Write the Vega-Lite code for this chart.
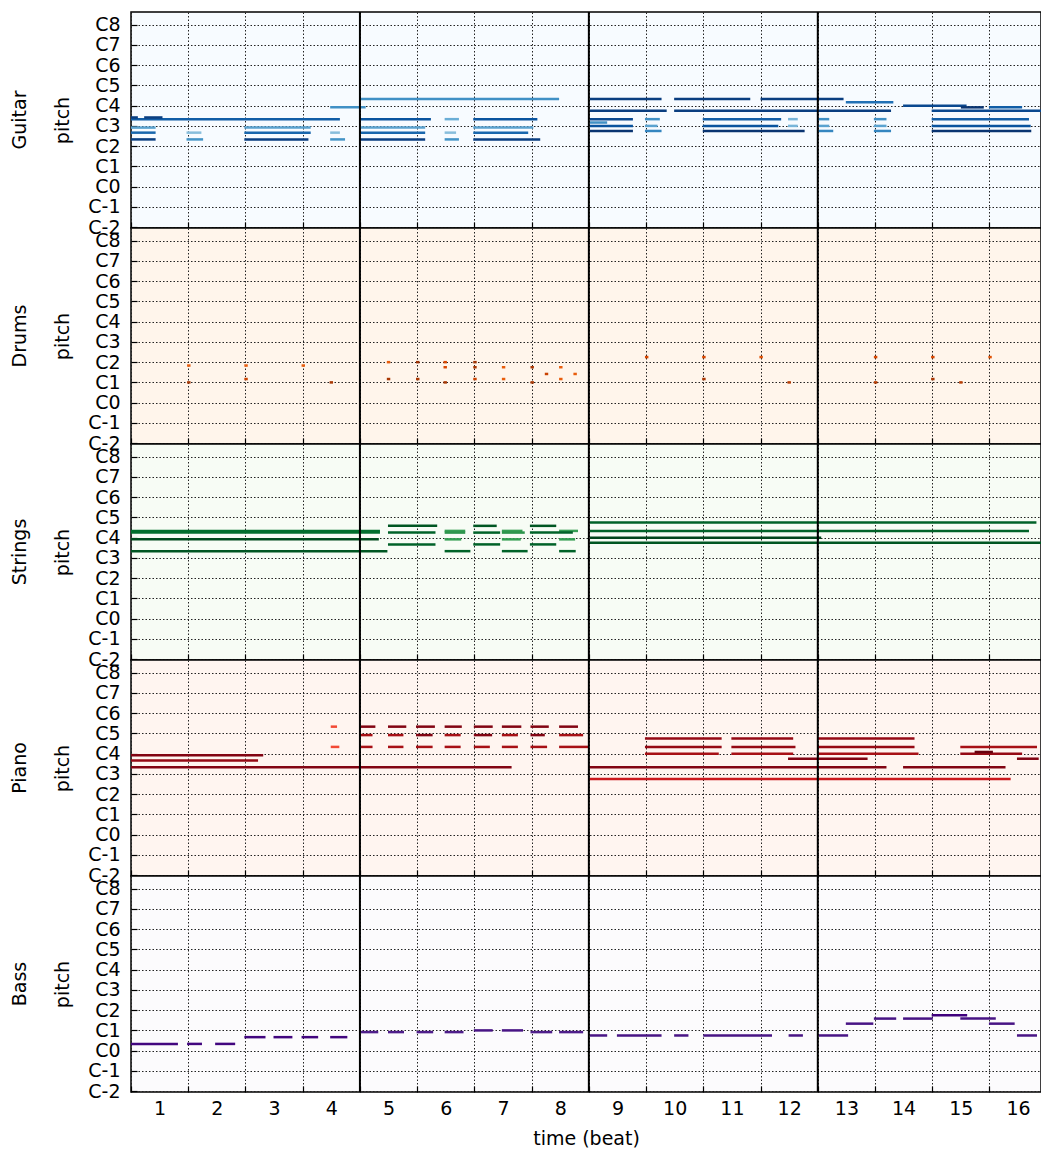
{
  "$schema": "https://vega.github.io/schema/vega-lite/v6.json",
  "padding": {"left": 10, "top": 10, "right": 0, "bottom": 5},
  "bounds": "flush",
  "spacing": 0,
  "config": {
    "font": "DejaVu Sans",
    "view": {"stroke": "black", "strokeWidth": 1.5},
    "axis": {"labelFont": "DejaVu Sans", "labelFontSize": 19, "labelColor": "black", "titleFont": "DejaVu Sans", "titleFontSize": 19, "titleFontWeight": "normal", "titleColor": "black", "grid": true, "gridColor": "#222", "gridDash": [1.5, 2], "gridWidth": 1, "domain": false, "tickColor": "black", "tickWidth": 1.2, "tickSize": -6, "labelFlush": false, "labelOverlap": false, "labelBound": false},
    "title": {"font": "DejaVu Sans", "fontSize": 19, "fontWeight": "normal", "color": "black"}
  },
  "datasets": {
    "downbeats": [{"beat": 4}, {"beat": 8}, {"beat": 12}],
    "notes": [
      {"track": "Guitar", "pitch": 76, "start": 4.0, "end": 7.48, "velocity": 80},
      {"track": "Guitar", "pitch": 71, "start": 3.48, "end": 4.1, "velocity": 80},
      {"track": "Guitar", "pitch": 64, "start": 0, "end": 3.65, "velocity": 105},
      {"track": "Guitar", "pitch": 65, "start": 0, "end": 0.12, "velocity": 120},
      {"track": "Guitar", "pitch": 65, "start": 0.23, "end": 0.55, "velocity": 120},
      {"track": "Guitar", "pitch": 64, "start": 4.01, "end": 5.24, "velocity": 110},
      {"track": "Guitar", "pitch": 64, "start": 5.48, "end": 5.73, "velocity": 64},
      {"track": "Guitar", "pitch": 64, "start": 5.98, "end": 7.1, "velocity": 110},
      {"track": "Guitar", "pitch": 59, "start": 0, "end": 0.43, "velocity": 70},
      {"track": "Guitar", "pitch": 59, "start": 1.98, "end": 3.14, "velocity": 70},
      {"track": "Guitar", "pitch": 59, "start": 4.01, "end": 5.14, "velocity": 70},
      {"track": "Guitar", "pitch": 59, "start": 5.98, "end": 7.03, "velocity": 70},
      {"track": "Guitar", "pitch": 56, "start": 0, "end": 0.43, "velocity": 100},
      {"track": "Guitar", "pitch": 56, "start": 0.97, "end": 1.23, "velocity": 55},
      {"track": "Guitar", "pitch": 56, "start": 1.98, "end": 3.14, "velocity": 100},
      {"track": "Guitar", "pitch": 56, "start": 3.48, "end": 3.65, "velocity": 55},
      {"track": "Guitar", "pitch": 56, "start": 4.01, "end": 5.14, "velocity": 100},
      {"track": "Guitar", "pitch": 56, "start": 5.48, "end": 5.68, "velocity": 55},
      {"track": "Guitar", "pitch": 56, "start": 5.98, "end": 6.94, "velocity": 100},
      {"track": "Guitar", "pitch": 52, "start": 0, "end": 0.43, "velocity": 120},
      {"track": "Guitar", "pitch": 52, "start": 0.97, "end": 1.26, "velocity": 78},
      {"track": "Guitar", "pitch": 52, "start": 1.98, "end": 3.1, "velocity": 120},
      {"track": "Guitar", "pitch": 52, "start": 3.48, "end": 3.74, "velocity": 78},
      {"track": "Guitar", "pitch": 52, "start": 4.01, "end": 5.14, "velocity": 120},
      {"track": "Guitar", "pitch": 52, "start": 5.48, "end": 5.73, "velocity": 78},
      {"track": "Guitar", "pitch": 52, "start": 5.98, "end": 7.15, "velocity": 120},
      {"track": "Guitar", "pitch": 76, "start": 8.02, "end": 9.27, "velocity": 120},
      {"track": "Guitar", "pitch": 76, "start": 9.49, "end": 10.82, "velocity": 120},
      {"track": "Guitar", "pitch": 76, "start": 11.0, "end": 12.45, "velocity": 120},
      {"track": "Guitar", "pitch": 74, "start": 12.49, "end": 13.32, "velocity": 95},
      {"track": "Guitar", "pitch": 72, "start": 13.49, "end": 14.6, "velocity": 115},
      {"track": "Guitar", "pitch": 71, "start": 14.5, "end": 14.9, "velocity": 125},
      {"track": "Guitar", "pitch": 71, "start": 14.99, "end": 15.57, "velocity": 105},
      {"track": "Guitar", "pitch": 69, "start": 8.02, "end": 9.36, "velocity": 120},
      {"track": "Guitar", "pitch": 69, "start": 9.49, "end": 13.28, "velocity": 120},
      {"track": "Guitar", "pitch": 69, "start": 13.99, "end": 15.9, "velocity": 115},
      {"track": "Guitar", "pitch": 64, "start": 8.02, "end": 8.77, "velocity": 115},
      {"track": "Guitar", "pitch": 64, "start": 8.98, "end": 9.24, "velocity": 80},
      {"track": "Guitar", "pitch": 64, "start": 9.99, "end": 11.36, "velocity": 105},
      {"track": "Guitar", "pitch": 64, "start": 11.48, "end": 11.65, "velocity": 60},
      {"track": "Guitar", "pitch": 64, "start": 12.0, "end": 12.2, "velocity": 80},
      {"track": "Guitar", "pitch": 64, "start": 12.98, "end": 13.2, "velocity": 80},
      {"track": "Guitar", "pitch": 64, "start": 13.99, "end": 15.69, "velocity": 105},
      {"track": "Guitar", "pitch": 62, "start": 8.02, "end": 8.32, "velocity": 80},
      {"track": "Guitar", "pitch": 60, "start": 8.02, "end": 8.77, "velocity": 110},
      {"track": "Guitar", "pitch": 60, "start": 8.98, "end": 9.2, "velocity": 70},
      {"track": "Guitar", "pitch": 60, "start": 9.99, "end": 11.31, "velocity": 110},
      {"track": "Guitar", "pitch": 60, "start": 11.48, "end": 11.65, "velocity": 60},
      {"track": "Guitar", "pitch": 60, "start": 12.0, "end": 12.2, "velocity": 70},
      {"track": "Guitar", "pitch": 60, "start": 12.98, "end": 13.2, "velocity": 70},
      {"track": "Guitar", "pitch": 60, "start": 13.99, "end": 15.72, "velocity": 110},
      {"track": "Guitar", "pitch": 57, "start": 8.02, "end": 8.77, "velocity": 125},
      {"track": "Guitar", "pitch": 57, "start": 8.98, "end": 9.27, "velocity": 85},
      {"track": "Guitar", "pitch": 57, "start": 9.99, "end": 11.77, "velocity": 125},
      {"track": "Guitar", "pitch": 57, "start": 12.0, "end": 12.27, "velocity": 85},
      {"track": "Guitar", "pitch": 57, "start": 12.98, "end": 13.28, "velocity": 85},
      {"track": "Guitar", "pitch": 57, "start": 13.99, "end": 15.73, "velocity": 125},

      {"track": "Drums", "pitch": 46, "start": 0.98, "end": 1.04, "velocity": 85},
      {"track": "Drums", "pitch": 46, "start": 1.98, "end": 2.04, "velocity": 85},
      {"track": "Drums", "pitch": 46, "start": 2.98, "end": 3.04, "velocity": 85},
      {"track": "Drums", "pitch": 36, "start": 0.98, "end": 1.04, "velocity": 110},
      {"track": "Drums", "pitch": 38, "start": 1.98, "end": 2.04, "velocity": 100},
      {"track": "Drums", "pitch": 36, "start": 3.47, "end": 3.53, "velocity": 110},
      {"track": "Drums", "pitch": 48, "start": 4.47, "end": 4.53, "velocity": 85},
      {"track": "Drums", "pitch": 48, "start": 4.98, "end": 5.04, "velocity": 115},
      {"track": "Drums", "pitch": 48, "start": 5.46, "end": 5.52, "velocity": 95},
      {"track": "Drums", "pitch": 48, "start": 5.98, "end": 6.04, "velocity": 115},
      {"track": "Drums", "pitch": 45, "start": 5.46, "end": 5.52, "velocity": 95},
      {"track": "Drums", "pitch": 45, "start": 5.98, "end": 6.04, "velocity": 110},
      {"track": "Drums", "pitch": 45, "start": 6.48, "end": 6.54, "velocity": 85},
      {"track": "Drums", "pitch": 45, "start": 6.98, "end": 7.04, "velocity": 110},
      {"track": "Drums", "pitch": 45, "start": 7.48, "end": 7.54, "velocity": 85},
      {"track": "Drums", "pitch": 41, "start": 7.23, "end": 7.29, "velocity": 100},
      {"track": "Drums", "pitch": 41, "start": 7.73, "end": 7.79, "velocity": 85},
      {"track": "Drums", "pitch": 38, "start": 4.47, "end": 4.53, "velocity": 110},
      {"track": "Drums", "pitch": 38, "start": 4.98, "end": 5.04, "velocity": 110},
      {"track": "Drums", "pitch": 38, "start": 5.98, "end": 6.04, "velocity": 100},
      {"track": "Drums", "pitch": 38, "start": 6.48, "end": 6.54, "velocity": 85},
      {"track": "Drums", "pitch": 38, "start": 7.48, "end": 7.54, "velocity": 85},
      {"track": "Drums", "pitch": 36, "start": 5.46, "end": 5.52, "velocity": 110},
      {"track": "Drums", "pitch": 36, "start": 6.98, "end": 7.04, "velocity": 110},
      {"track": "Drums", "pitch": 51, "start": 8.98, "end": 9.04, "velocity": 95},
      {"track": "Drums", "pitch": 51, "start": 9.98, "end": 10.04, "velocity": 95},
      {"track": "Drums", "pitch": 51, "start": 10.98, "end": 11.04, "velocity": 90},
      {"track": "Drums", "pitch": 51, "start": 12.98, "end": 13.04, "velocity": 95},
      {"track": "Drums", "pitch": 51, "start": 13.98, "end": 14.04, "velocity": 95},
      {"track": "Drums", "pitch": 51, "start": 14.98, "end": 15.04, "velocity": 90},
      {"track": "Drums", "pitch": 38, "start": 9.98, "end": 10.04, "velocity": 110},
      {"track": "Drums", "pitch": 38, "start": 13.98, "end": 14.04, "velocity": 110},
      {"track": "Drums", "pitch": 36, "start": 11.47, "end": 11.53, "velocity": 105},
      {"track": "Drums", "pitch": 36, "start": 12.98, "end": 13.04, "velocity": 105},
      {"track": "Drums", "pitch": 36, "start": 14.47, "end": 14.53, "velocity": 105},

      {"track": "Strings", "pitch": 76, "start": 0, "end": 4.35, "velocity": 110},
      {"track": "Strings", "pitch": 75, "start": 0, "end": 4.35, "velocity": 110},
      {"track": "Strings", "pitch": 71, "start": 0, "end": 4.33, "velocity": 125},
      {"track": "Strings", "pitch": 64, "start": 0, "end": 4.48, "velocity": 120},
      {"track": "Strings", "pitch": 79, "start": 4.49, "end": 5.35, "velocity": 120},
      {"track": "Strings", "pitch": 79, "start": 5.98, "end": 6.39, "velocity": 120},
      {"track": "Strings", "pitch": 79, "start": 6.97, "end": 7.43, "velocity": 120},
      {"track": "Strings", "pitch": 76, "start": 5.48, "end": 5.84, "velocity": 85},
      {"track": "Strings", "pitch": 76, "start": 6.48, "end": 6.84, "velocity": 85},
      {"track": "Strings", "pitch": 76, "start": 7.48, "end": 7.81, "velocity": 85},
      {"track": "Strings", "pitch": 75, "start": 4.49, "end": 5.32, "velocity": 115},
      {"track": "Strings", "pitch": 75, "start": 5.48, "end": 5.84, "velocity": 90},
      {"track": "Strings", "pitch": 75, "start": 5.98, "end": 6.45, "velocity": 115},
      {"track": "Strings", "pitch": 75, "start": 6.48, "end": 6.88, "velocity": 90},
      {"track": "Strings", "pitch": 75, "start": 6.97, "end": 7.72, "velocity": 115},
      {"track": "Strings", "pitch": 71, "start": 5.48, "end": 5.77, "velocity": 85},
      {"track": "Strings", "pitch": 71, "start": 6.48, "end": 6.81, "velocity": 85},
      {"track": "Strings", "pitch": 71, "start": 7.48, "end": 7.76, "velocity": 85},
      {"track": "Strings", "pitch": 68, "start": 4.49, "end": 5.32, "velocity": 115},
      {"track": "Strings", "pitch": 68, "start": 5.98, "end": 6.45, "velocity": 115},
      {"track": "Strings", "pitch": 68, "start": 6.97, "end": 7.43, "velocity": 115},
      {"track": "Strings", "pitch": 64, "start": 5.48, "end": 5.93, "velocity": 115},
      {"track": "Strings", "pitch": 64, "start": 6.48, "end": 6.93, "velocity": 115},
      {"track": "Strings", "pitch": 64, "start": 7.48, "end": 7.77, "velocity": 115},
      {"track": "Strings", "pitch": 81, "start": 8.02, "end": 15.82, "velocity": 115},
      {"track": "Strings", "pitch": 76, "start": 8.02, "end": 15.69, "velocity": 115},
      {"track": "Strings", "pitch": 72, "start": 8.02, "end": 12.06, "velocity": 127},
      {"track": "Strings", "pitch": 69, "start": 8.02, "end": 15.9, "velocity": 120},

      {"track": "Piano", "pitch": 88, "start": 3.49, "end": 3.6, "velocity": 75},
      {"track": "Piano", "pitch": 88, "start": 4.01, "end": 4.27, "velocity": 120},
      {"track": "Piano", "pitch": 88, "start": 4.49, "end": 4.81, "velocity": 120},
      {"track": "Piano", "pitch": 88, "start": 4.98, "end": 5.31, "velocity": 120},
      {"track": "Piano", "pitch": 88, "start": 5.48, "end": 5.78, "velocity": 120},
      {"track": "Piano", "pitch": 88, "start": 5.99, "end": 6.32, "velocity": 120},
      {"track": "Piano", "pitch": 88, "start": 6.48, "end": 6.82, "velocity": 120},
      {"track": "Piano", "pitch": 88, "start": 6.98, "end": 7.3, "velocity": 120},
      {"track": "Piano", "pitch": 88, "start": 7.48, "end": 7.81, "velocity": 120},
      {"track": "Piano", "pitch": 83, "start": 4.01, "end": 4.22, "velocity": 110},
      {"track": "Piano", "pitch": 83, "start": 4.49, "end": 4.76, "velocity": 110},
      {"track": "Piano", "pitch": 83, "start": 4.98, "end": 5.27, "velocity": 120},
      {"track": "Piano", "pitch": 83, "start": 5.48, "end": 5.76, "velocity": 110},
      {"track": "Piano", "pitch": 83, "start": 5.99, "end": 6.31, "velocity": 120},
      {"track": "Piano", "pitch": 83, "start": 6.48, "end": 6.76, "velocity": 110},
      {"track": "Piano", "pitch": 83, "start": 6.98, "end": 7.23, "velocity": 120},
      {"track": "Piano", "pitch": 83, "start": 7.48, "end": 7.9, "velocity": 110},
      {"track": "Piano", "pitch": 76, "start": 3.49, "end": 3.64, "velocity": 75},
      {"track": "Piano", "pitch": 76, "start": 4.01, "end": 4.22, "velocity": 110},
      {"track": "Piano", "pitch": 76, "start": 4.49, "end": 4.76, "velocity": 110},
      {"track": "Piano", "pitch": 76, "start": 4.98, "end": 5.27, "velocity": 110},
      {"track": "Piano", "pitch": 76, "start": 5.48, "end": 5.76, "velocity": 110},
      {"track": "Piano", "pitch": 76, "start": 5.99, "end": 6.27, "velocity": 110},
      {"track": "Piano", "pitch": 76, "start": 6.48, "end": 6.76, "velocity": 110},
      {"track": "Piano", "pitch": 76, "start": 6.98, "end": 7.27, "velocity": 110},
      {"track": "Piano", "pitch": 76, "start": 7.48, "end": 8.0, "velocity": 110},
      {"track": "Piano", "pitch": 71, "start": 0, "end": 2.31, "velocity": 120},
      {"track": "Piano", "pitch": 68, "start": 0, "end": 2.22, "velocity": 115},
      {"track": "Piano", "pitch": 64, "start": 0, "end": 6.65, "velocity": 120},
      {"track": "Piano", "pitch": 81, "start": 8.98, "end": 10.32, "velocity": 115},
      {"track": "Piano", "pitch": 81, "start": 10.49, "end": 11.57, "velocity": 115},
      {"track": "Piano", "pitch": 81, "start": 12.0, "end": 13.69, "velocity": 115},
      {"track": "Piano", "pitch": 76, "start": 8.98, "end": 10.32, "velocity": 115},
      {"track": "Piano", "pitch": 76, "start": 10.49, "end": 11.61, "velocity": 115},
      {"track": "Piano", "pitch": 76, "start": 12.0, "end": 13.69, "velocity": 115},
      {"track": "Piano", "pitch": 76, "start": 14.49, "end": 15.83, "velocity": 110},
      {"track": "Piano", "pitch": 72, "start": 8.98, "end": 10.27, "velocity": 110},
      {"track": "Piano", "pitch": 72, "start": 10.49, "end": 11.57, "velocity": 110},
      {"track": "Piano", "pitch": 72, "start": 12.0, "end": 13.76, "velocity": 110},
      {"track": "Piano", "pitch": 72, "start": 14.49, "end": 15.57, "velocity": 115},
      {"track": "Piano", "pitch": 73, "start": 14.74, "end": 15.06, "velocity": 127},
      {"track": "Piano", "pitch": 69, "start": 11.48, "end": 12.87, "velocity": 120},
      {"track": "Piano", "pitch": 69, "start": 15.48, "end": 15.86, "velocity": 120},
      {"track": "Piano", "pitch": 64, "start": 7.99, "end": 13.2, "velocity": 120},
      {"track": "Piano", "pitch": 64, "start": 13.49, "end": 15.28, "velocity": 120},
      {"track": "Piano", "pitch": 57, "start": 7.99, "end": 15.37, "velocity": 95},

      {"track": "Bass", "pitch": 28, "start": 0, "end": 0.82, "velocity": 125},
      {"track": "Bass", "pitch": 28, "start": 0.98, "end": 1.24, "velocity": 125},
      {"track": "Bass", "pitch": 28, "start": 1.47, "end": 1.82, "velocity": 125},
      {"track": "Bass", "pitch": 32, "start": 1.98, "end": 2.35, "velocity": 125},
      {"track": "Bass", "pitch": 32, "start": 2.49, "end": 2.82, "velocity": 125},
      {"track": "Bass", "pitch": 32, "start": 2.98, "end": 3.27, "velocity": 125},
      {"track": "Bass", "pitch": 32, "start": 3.48, "end": 3.78, "velocity": 125},
      {"track": "Bass", "pitch": 35, "start": 4.01, "end": 4.32, "velocity": 115},
      {"track": "Bass", "pitch": 35, "start": 4.49, "end": 4.77, "velocity": 115},
      {"track": "Bass", "pitch": 35, "start": 4.99, "end": 5.28, "velocity": 115},
      {"track": "Bass", "pitch": 35, "start": 5.48, "end": 5.81, "velocity": 115},
      {"track": "Bass", "pitch": 36, "start": 5.99, "end": 6.32, "velocity": 120},
      {"track": "Bass", "pitch": 36, "start": 6.48, "end": 6.85, "velocity": 120},
      {"track": "Bass", "pitch": 35, "start": 6.98, "end": 7.36, "velocity": 115},
      {"track": "Bass", "pitch": 35, "start": 7.48, "end": 7.9, "velocity": 115},
      {"track": "Bass", "pitch": 33, "start": 8.02, "end": 8.32, "velocity": 120},
      {"track": "Bass", "pitch": 33, "start": 8.49, "end": 9.27, "velocity": 120},
      {"track": "Bass", "pitch": 33, "start": 9.49, "end": 9.74, "velocity": 120},
      {"track": "Bass", "pitch": 33, "start": 10.0, "end": 11.2, "velocity": 120},
      {"track": "Bass", "pitch": 33, "start": 11.49, "end": 11.74, "velocity": 120},
      {"track": "Bass", "pitch": 33, "start": 12.02, "end": 12.53, "velocity": 120},
      {"track": "Bass", "pitch": 33, "start": 15.48, "end": 15.83, "velocity": 120},
      {"track": "Bass", "pitch": 40, "start": 12.49, "end": 12.97, "velocity": 120},
      {"track": "Bass", "pitch": 40, "start": 14.99, "end": 15.44, "velocity": 120},
      {"track": "Bass", "pitch": 43, "start": 12.98, "end": 13.37, "velocity": 120},
      {"track": "Bass", "pitch": 43, "start": 13.49, "end": 14.01, "velocity": 120},
      {"track": "Bass", "pitch": 43, "start": 14.49, "end": 15.11, "velocity": 120},
      {"track": "Bass", "pitch": 45, "start": 13.99, "end": 14.61, "velocity": 127}
    ]
  },
  "resolve": {"scale": {"color": "independent", "x": "independent", "y": "independent"}},
  "vconcat": [
    {
      "width": 910, "height": 216,
      "view": {"fill": "#f7fbff", "stroke": "black", "strokeWidth": 1.5},
      "title": {"text": "Guitar", "orient": "left", "offset": 24},
      "layer": [
        {
          "data": {"name": "notes"},
          "transform": [{"filter": "datum.track == 'Guitar'"}],
          "mark": {"type": "rule", "strokeWidth": 2.5, "strokeCap": "butt"},
          "encoding": {
            "x": {"field": "start", "type": "quantitative", "scale": {"domain": [0, 15.9], "nice": false, "zero": false}, "axis": {"values": [0,1,2,3,4,5,6,7,8,9,10,11,12,13,14,15], "labels": false, "title": null}},
            "x2": {"field": "end"},
            "y": {"field": "pitch", "type": "quantitative", "scale": {"domain": [-0.5, 127.5], "nice": false, "zero": false}, "axis": {"values": [0,12,24,36,48,60,72,84,96,108,120], "labelExpr": "'C' + (datum.value/12 - 2)", "title": "pitch", "labelPadding": 17, "titlePadding": 15}},
            "color": {"field": "velocity", "type": "quantitative", "legend": null, "scale": {"domain": [0,16,32,48,64,79,95,111,127], "range": ["#f7fbff","#deebf7","#c6dbef","#9ecae1","#6baed6","#4292c6","#2171b5","#08519c","#08306b"]}}
          }
        },
        {
          "data": {"name": "downbeats"},
          "mark": {"type": "rule", "color": "black", "strokeWidth": 2},
          "encoding": {"x": {"field": "beat", "type": "quantitative"}}
        }
      ]
    },
    {
      "width": 910, "height": 216,
      "view": {"fill": "#fff5eb", "stroke": "black", "strokeWidth": 1.5},
      "title": {"text": "Drums", "orient": "left", "offset": 24},
      "layer": [
        {
          "data": {"name": "notes"},
          "transform": [{"filter": "datum.track == 'Drums'"}],
          "mark": {"type": "rule", "strokeWidth": 2.5, "strokeCap": "butt"},
          "encoding": {
            "x": {"field": "start", "type": "quantitative", "scale": {"domain": [0, 15.9], "nice": false, "zero": false}, "axis": {"values": [0,1,2,3,4,5,6,7,8,9,10,11,12,13,14,15], "labels": false, "title": null}},
            "x2": {"field": "end"},
            "y": {"field": "pitch", "type": "quantitative", "scale": {"domain": [-0.5, 127.5], "nice": false, "zero": false}, "axis": {"values": [0,12,24,36,48,60,72,84,96,108,120], "labelExpr": "'C' + (datum.value/12 - 2)", "title": "pitch", "labelPadding": 17, "titlePadding": 15}},
            "color": {"field": "velocity", "type": "quantitative", "legend": null, "scale": {"domain": [0,16,32,48,64,79,95,111,127], "range": ["#fff5eb","#fee6ce","#fdd0a2","#fdae6b","#fd8d3c","#f16913","#d94801","#a63603","#7f2704"]}}
          }
        },
        {
          "data": {"name": "downbeats"},
          "mark": {"type": "rule", "color": "black", "strokeWidth": 2},
          "encoding": {"x": {"field": "beat", "type": "quantitative"}}
        }
      ]
    },
    {
      "width": 910, "height": 216,
      "view": {"fill": "#f7fcf5", "stroke": "black", "strokeWidth": 1.5},
      "title": {"text": "Strings", "orient": "left", "offset": 24},
      "layer": [
        {
          "data": {"name": "notes"},
          "transform": [{"filter": "datum.track == 'Strings'"}],
          "mark": {"type": "rule", "strokeWidth": 2.5, "strokeCap": "butt"},
          "encoding": {
            "x": {"field": "start", "type": "quantitative", "scale": {"domain": [0, 15.9], "nice": false, "zero": false}, "axis": {"values": [0,1,2,3,4,5,6,7,8,9,10,11,12,13,14,15], "labels": false, "title": null}},
            "x2": {"field": "end"},
            "y": {"field": "pitch", "type": "quantitative", "scale": {"domain": [-0.5, 127.5], "nice": false, "zero": false}, "axis": {"values": [0,12,24,36,48,60,72,84,96,108,120], "labelExpr": "'C' + (datum.value/12 - 2)", "title": "pitch", "labelPadding": 17, "titlePadding": 15}},
            "color": {"field": "velocity", "type": "quantitative", "legend": null, "scale": {"domain": [0,16,32,48,64,79,95,111,127], "range": ["#f7fcf5","#e5f5e0","#c7e9c0","#a1d99b","#74c476","#41ab5d","#238b45","#006d2c","#00441b"]}}
          }
        },
        {
          "data": {"name": "downbeats"},
          "mark": {"type": "rule", "color": "black", "strokeWidth": 2},
          "encoding": {"x": {"field": "beat", "type": "quantitative"}}
        }
      ]
    },
    {
      "width": 910, "height": 216,
      "view": {"fill": "#fff5f0", "stroke": "black", "strokeWidth": 1.5},
      "title": {"text": "Piano", "orient": "left", "offset": 24},
      "layer": [
        {
          "data": {"name": "notes"},
          "transform": [{"filter": "datum.track == 'Piano'"}],
          "mark": {"type": "rule", "strokeWidth": 2.5, "strokeCap": "butt"},
          "encoding": {
            "x": {"field": "start", "type": "quantitative", "scale": {"domain": [0, 15.9], "nice": false, "zero": false}, "axis": {"values": [0,1,2,3,4,5,6,7,8,9,10,11,12,13,14,15], "labels": false, "title": null}},
            "x2": {"field": "end"},
            "y": {"field": "pitch", "type": "quantitative", "scale": {"domain": [-0.5, 127.5], "nice": false, "zero": false}, "axis": {"values": [0,12,24,36,48,60,72,84,96,108,120], "labelExpr": "'C' + (datum.value/12 - 2)", "title": "pitch", "labelPadding": 17, "titlePadding": 15}},
            "color": {"field": "velocity", "type": "quantitative", "legend": null, "scale": {"domain": [0,16,32,48,64,79,95,111,127], "range": ["#fff5f0","#fee0d2","#fcbba1","#fc9272","#fb6a4a","#ef3b2c","#cb181d","#a50f15","#67000d"]}}
          }
        },
        {
          "data": {"name": "downbeats"},
          "mark": {"type": "rule", "color": "black", "strokeWidth": 2},
          "encoding": {"x": {"field": "beat", "type": "quantitative"}}
        }
      ]
    },
    {
      "width": 910, "height": 216,
      "view": {"fill": "#fcfbfd", "stroke": "black", "strokeWidth": 1.5},
      "title": {"text": "Bass", "orient": "left", "offset": 24},
      "layer": [
        {
          "data": {"name": "notes"},
          "transform": [{"filter": "datum.track == 'Bass'"}],
          "mark": {"type": "rule", "strokeWidth": 2.5, "strokeCap": "butt"},
          "encoding": {
            "x": {"field": "start", "type": "quantitative", "scale": {"domain": [0, 15.9], "nice": false, "zero": false}, "axis": {"values": [0,1,2,3,4,5,6,7,8,9,10,11,12,13,14,15], "labelExpr": "datum.value + 1", "labelOffset": 28.6, "labelPadding": 13.5, "title": "time (beat)", "titlePadding": 11}},
            "x2": {"field": "end"},
            "y": {"field": "pitch", "type": "quantitative", "scale": {"domain": [-0.5, 127.5], "nice": false, "zero": false}, "axis": {"values": [0,12,24,36,48,60,72,84,96,108,120], "labelExpr": "'C' + (datum.value/12 - 2)", "title": "pitch", "labelPadding": 17, "titlePadding": 15}},
            "color": {"field": "velocity", "type": "quantitative", "legend": null, "scale": {"domain": [0,16,32,48,64,79,95,111,127], "range": ["#fcfbfd","#efedf5","#dadaeb","#bcbddc","#9e9ac8","#807dba","#6a51a3","#54278f","#3f007d"]}}
          }
        },
        {
          "data": {"name": "downbeats"},
          "mark": {"type": "rule", "color": "black", "strokeWidth": 2},
          "encoding": {"x": {"field": "beat", "type": "quantitative"}}
        }
      ]
    }
  ]
}
